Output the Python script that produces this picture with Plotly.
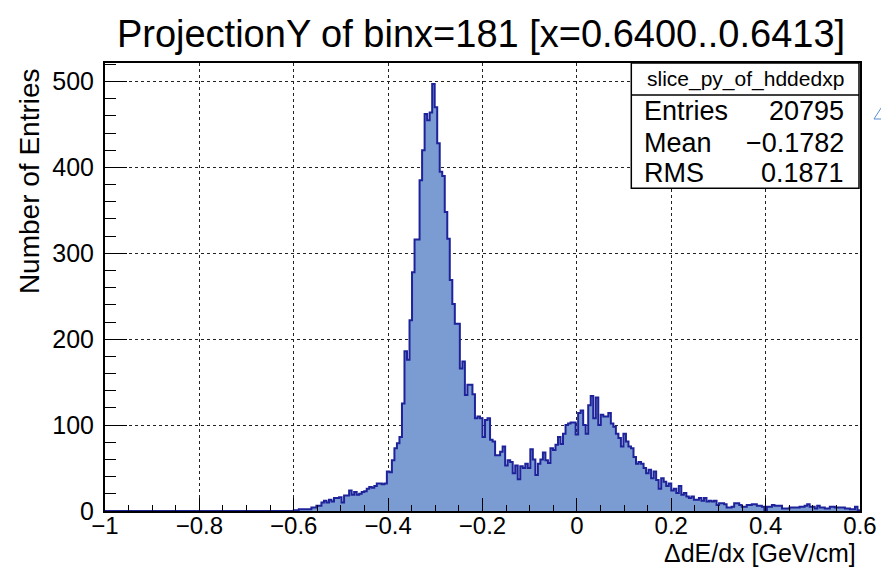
import numpy as np
import plotly.graph_objects as go

# Histogram binning (ΔdE/dx axis)
x_lo, x_hi, n_bins = -1.0, 0.6, 300

# Bin contents, bin 0 .. 299
counts = [
    0, 0, 0, 0, 0, 0, 0, 0, 0, 0, 0, 0, 0, 0, 0, 0, 0, 0, 0, 0,
    0, 0, 0, 0, 0, 0, 0, 0, 0, 0, 0, 0, 0, 0, 0, 0, 0, 0, 0, 0,
    0, 0, 0, 0, 0, 0, 0, 0, 0, 0, 0, 0, 0, 0, 0, 0, 0, 0, 0, 0,
    0, 0, 0, 0, 0, 0, 0, 0, 0, 0, 0, 0, 0, 0, 0,
    1, 1, 2, 2, 2, 2, 2, 4, 4, 6, 6, 10, 12, 10, 13, 11, 15, 15, 16, 10,
    18, 18, 24, 19, 22, 19, 20, 22, 23, 26, 28, 27, 29, 32, 32, 31, 32, 46, 45, 59,
    73, 79, 86, 125, 186, 176, 222, 278, 316, 316, 385, 420, 462, 455, 464, 497, 470, 428, 395, 390,
    348, 317, 269, 241, 218, 218, 166, 174, 135, 147, 147, 136, 108, 110, 108, 86, 106, 108, 83, 81,
    65, 65, 69, 75, 53, 59, 57, 44, 53, 37, 52, 50, 55, 50, 72, 60, 42, 55, 60, 68,
    59, 56, 73, 71, 77, 86, 78, 90, 100, 102, 103, 103, 89, 114, 117, 100, 90, 123, 134, 108,
    132, 100, 112, 110, 110, 114, 102, 98, 90, 85, 75, 90, 81, 75, 73, 63, 55, 57, 55, 50,
    44, 48, 38, 46, 36, 26, 38, 34, 29, 32, 24, 26, 21, 29, 19, 21, 17, 15, 17, 13,
    13, 15, 12, 15, 11, 12, 11, 12, 7, 9, 9, 8, 4, 4, 5, 9, 9, 7, 5, 5,
    7, 7, 8, 8, 6, 6, 5, 1, 5, 5, 7, 6, 6, 6, 3, 3, 3, 4, 4, 4,
    4, 5, 5, 6, 8, 5, 5, 3, 6, 4, 4, 3, 3, 5, 5, 4, 4, 4, 4, 3,
    3, 2, 2, 5, 1,
]

x_tick_vals = [-1.0, -0.8, -0.6, -0.4, -0.2, 0.0, 0.2, 0.4, 0.6]
x_tick_text = ["\u22121", "\u22120.8", "\u22120.6", "\u22120.4", "\u22120.2", "0", "0.2", "0.4", "0.6"]
y_tick_vals = [0, 100, 200, 300, 400, 500]
y_tick_text = ["0", "100", "200", "300", "400", "500"]

title_text = "ProjectionY of binx=181 [x=0.6400..0.6413]"
x_title = "\u0394dE/dx [GeV/cm]"
y_title = "Number of Entries"

stats_name = "slice_py_of_hddedxp"
stats_labels = ["Entries", "Mean", "RMS"]
stats_values = ["20795", "\u22120.1782", "0.1871"]

FONT = "Liberation Sans, Arial, Helvetica, sans-serif"
FILL = "#7b9bd3"
LINE = "#1e239a"

edges = np.linspace(x_lo, x_hi, n_bins + 1)
step_y = list(counts) + [counts[-1]]

fig = go.Figure()
fig.add_trace(go.Scatter(
    x=edges, y=step_y, mode="lines", line_shape="hv",
    line=dict(color=LINE, width=2), fill="tozeroy", fillcolor=FILL,
    hoverinfo="skip",
))

axis_common = dict(
    showline=True, linecolor="black", linewidth=2, mirror=True,
    ticks="inside", tickcolor="black", tickwidth=1.3,
    showgrid=True, gridcolor="#222222", griddash="dot", gridwidth=1,
    zeroline=False, automargin=False,
)

fig.update_xaxes(
    range=[x_lo, x_hi], tickvals=x_tick_vals, ticktext=x_tick_text, ticklen=13,
    tickfont=dict(family=FONT, size=24, color="black"), ticklabelstandoff=-8,
    minor=dict(dtick=0.05, tick0=-1.0, ticks="inside", ticklen=6.5, tickcolor="black",
               tickwidth=1.3, showgrid=False),
    **axis_common,
)
fig.update_yaxes(
    range=[0, 521.5], tickvals=y_tick_vals, ticktext=y_tick_text, ticklen=22,
    tickfont=dict(family=FONT, size=25, color="black"), ticklabelstandoff=4,
    minor=dict(dtick=20, tick0=0, ticks="inside", ticklen=11, tickcolor="black",
               tickwidth=1.3, showgrid=False),
    **axis_common,
)

# Stats box
bx0, bx1 = (632 - 105) / 756, (860 - 105) / 756
by0, by1 = (511 - 188.3) / 448, 1.0
sep = (511 - 95) / 448
shapes = [
    dict(type="rect", xref="paper", yref="paper", x0=bx0, x1=bx1, y0=by0, y1=by1,
         line=dict(color="black", width=1.5), fillcolor="white", layer="above"),
    dict(type="line", xref="paper", yref="paper", x0=bx0, x1=bx1, y0=sep, y1=sep,
         line=dict(color="black", width=1.5), layer="above"),
    dict(type="path", xref="paper", yref="paper",
         path="M 1.0185,0.875 L 1.030,0.905 M 1.0185,0.875 L 1.032,0.875",
         line=dict(color="#5a8ed0", width=1)),
]

annotations = [
    dict(text=stats_name, xref="paper", yref="paper", x=(bx0 + bx1) / 2, y=(511 - 79) / 448,
         xanchor="center", yanchor="middle", showarrow=False,
         font=dict(family=FONT, size=21, color="black")),
]
row_y = [110.7, 143.3, 173.3]
for lab, val, ry in zip(stats_labels, stats_values, row_y):
    yy = (511 - ry) / 448
    annotations.append(dict(text=lab, xref="paper", yref="paper", x=(643 - 105) / 756, y=yy,
                            xanchor="left", yanchor="middle", showarrow=False,
                            font=dict(family=FONT, size=27, color="black")))
    annotations.append(dict(text=val, xref="paper", yref="paper", x=(847 - 105) / 756, y=yy,
                            xanchor="right", yanchor="middle", showarrow=False,
                            font=dict(family=FONT, size=27, color="black")))

annotations.append(dict(text=y_title, xref="paper", yref="paper", x=(30 - 105) / 756,
                        y=(511 - 181) / 448, xanchor="center", yanchor="middle",
                        textangle=-90, showarrow=False,
                        font=dict(family=FONT, size=28, color="black")))
annotations.append(dict(text=x_title, xref="paper", yref="paper", x=(859 - 105) / 756,
                        y=(511 - 553) / 448, xanchor="right", yanchor="middle",
                        showarrow=False, font=dict(family=FONT, size=25, color="black")))

fig.update_layout(
    width=881, height=570,
    margin=dict(l=105, r=21, t=63, b=59),
    paper_bgcolor="white", plot_bgcolor="white",
    showlegend=False,
    title=dict(text=title_text, x=481 / 881, xanchor="center", xref="container",
               y=1 - 34 / 570, yanchor="middle", yref="container",
               font=dict(family=FONT, size=38, color="black")),
    shapes=shapes, annotations=annotations,
)

fig.write_html("out.html")
